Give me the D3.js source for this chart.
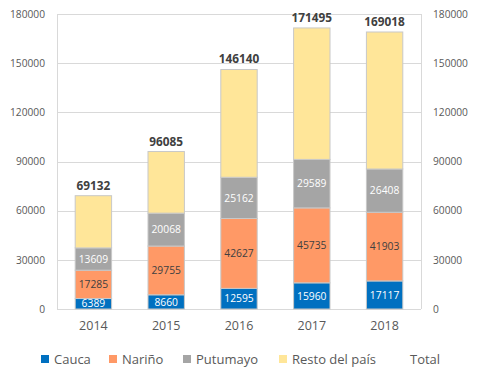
<!DOCTYPE html>
<html>
<head>
<meta charset="utf-8">
<script src="https://cdn.jsdelivr.net/npm/d3@7"></script>
<style>
  body { margin: 0; background: #fff; }
  text { font-family: "Open Sans", sans-serif; }
</style>
</head>
<body>
<div id="chart"></div>
<script>
// donnees
var years = ["2014", "2015", "2016", "2017", "2018"];
var cauca = [6389, 8660, 12595, 15960, 17117];
var narino = [17285, 29755, 42627, 45735, 41903];
var putumayo = [13609, 20068, 25162, 29589, 26408];
var resto = [31849, 37602, 65756, 80211, 83590];
var totals = [69132, 96085, 146140, 171495, 169018];
var yTicks = [0, 30000, 60000, 90000, 120000, 150000, 180000];

var seriesNames = ["Cauca", "Nariño", "Putumayo", "Resto del país"];
var colors = ["#0070C0", "#FF9966", "#A5A5A5", "#FFE699"];
var labelColors = ["#ffffff", "#404040", "#ffffff", null];

const W = 478, H = 381;
const margin = { top: 14, right: 57, bottom: 72, left: 57 };

var svg = d3.select("#chart").append("svg")
  .attr("width", W).attr("height", H);

var x = d3.scaleBand().domain(years)
  .range([margin.left, W - margin.right])
  .paddingInner(0.5).paddingOuter(0.25);
var y = d3.scaleLinear().domain([0, 180000])
  .range([H - margin.bottom, margin.top]);

// table pour le stack
var table = years.map((yr, i) => ({
  year: yr,
  "Cauca": cauca[i],
  "Nariño": narino[i],
  "Putumayo": putumayo[i],
  "Resto del país": resto[i]
}));
var stacked = d3.stack().keys(seriesNames)(table);

// grille
svg.append("g").selectAll("line")
  .data(yTicks).enter().append("line")
  .attr("x1", margin.left).attr("x2", W - margin.right)
  .attr("y1", d => Math.round(y(d)) + 0.5).attr("y2", d => Math.round(y(d)) + 0.5)
  .attr("stroke", "#D9D9D9").attr("stroke-width", 1);

// bords gauche / droite
[margin.left, W - margin.right].forEach(xx => {
  svg.append("line")
    .attr("x1", xx + 0.5).attr("x2", xx + 0.5)
    .attr("y1", y(180000)).attr("y2", y(0))
    .attr("stroke", "#D9D9D9");
});

// axes gauche et droite
var fmt = d3.format("d");
var leftAxis = d3.axisLeft(y).tickValues(yTicks).tickFormat(fmt).tickSize(0).tickPadding(12);
var gl = svg.append("g").attr("transform", "translate(" + margin.left + ",0)").call(leftAxis);
var rightAxis = d3.axisRight(y).tickValues(yTicks).tickFormat(fmt).tickSize(0).tickPadding(12);
var gr = svg.append("g").attr("transform", "translate(" + (W - margin.right) + ",0)").call(rightAxis);
[gl, gr].forEach(g => {
  g.select(".domain").remove();
  g.selectAll("text").attr("fill", "#595959")
    .style("font-size", "10.2px").style("font-family", "'Open Sans', sans-serif");
});

// axe x
var gx = svg.append("g").attr("transform", "translate(0," + y(0) + ")")
  .call(d3.axisBottom(x).tickSize(0).tickPadding(12));
gx.select(".domain").remove();
gx.selectAll("text").attr("fill", "#595959")
  .style("font-size", "12.5px").style("font-family", "'Open Sans', sans-serif");

// barres empilees
var layers = svg.append("g").selectAll("g")
  .data(stacked).enter().append("g")
  .attr("fill", (d, i) => colors[i]);

layers.selectAll("rect")
  .data(d => d).enter().append("rect")
  .attr("x", d => x(d.data.year))
  .attr("y", d => y(d[1]))
  .attr("width", x.bandwidth())
  .attr("height", d => y(d[0]) - y(d[1]))
  .attr("stroke", "#C8C8C8").attr("stroke-width", 1);

// etiquettes des segments
stacked.forEach((s, si) => {
  if (!labelColors[si]) return;
  svg.append("g").selectAll("text")
    .data(s).enter().append("text")
    .attr("x", d => x(d.data.year) + x.bandwidth() / 2)
    .attr("y", d => (y(d[0]) + y(d[1])) / 2)
    .attr("dy", "0.36em")
    .attr("text-anchor", "middle")
    .attr("fill", labelColors[si])
    .style("font-size", "10.3px")
    .text(d => d[1] - d[0]);
});

// totaux
svg.append("g").selectAll("text")
  .data(totals).enter().append("text")
  .attr("x", (d, i) => x(years[i]) + x.bandwidth() / 2)
  .attr("y", d => y(d) - 6)
  .attr("text-anchor", "middle")
  .attr("fill", "#404040")
  .style("font-size", "11.8px").style("font-weight", "bold")
  .text(d => d);

// legende
var legendItems = [
  { name: "Cauca", color: colors[0], x: 41 },
  { name: "Nariño", color: colors[1], x: 109 },
  { name: "Putumayo", color: colors[2], x: 183 },
  { name: "Resto del país", color: colors[3], x: 279 },
  { name: "Total", color: null, x: 397 }
];
var legY = 359;
var leg = svg.append("g").selectAll("g")
  .data(legendItems).enter().append("g");
leg.filter(d => d.color).append("rect")
  .attr("x", d => d.x).attr("y", legY - 4)
  .attr("width", 8).attr("height", 8)
  .attr("fill", d => d.color);
leg.append("text")
  .attr("x", d => d.x + 13).attr("y", legY)
  .attr("dy", "0.36em")
  .attr("fill", "#595959")
  .style("font-size", "13px")
  .text(d => d.name);
</script>
</body>
</html>
